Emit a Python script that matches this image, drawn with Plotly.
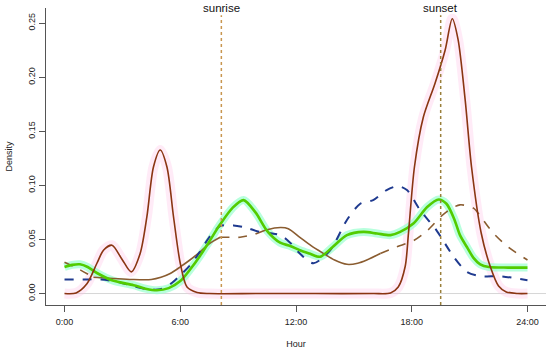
import plotly.graph_objects as go

# ---- data ----
red_h = [0, 0.6, 1.16, 1.68, 2.02, 2.46, 2.97, 3.46, 3.92, 4.27, 4.61, 4.96, 5.31, 5.65, 6.0, 6.35, 6.87, 7.5,
         10, 13, 16, 16.9, 17.3, 17.66, 17.83, 18.14, 18.6, 19.2, 19.73, 20.1, 20.4, 20.77, 21.1, 21.6, 22.07,
         22.5, 22.9, 23.5, 24]
red_v = [0, 0.0005, 0.009, 0.028, 0.040, 0.0447, 0.032, 0.020, 0.037, 0.071, 0.117, 0.1327, 0.117, 0.071, 0.028,
         0.006, 0.001, 0, 0, 0, 0, 0.0005, 0.006, 0.025, 0.0556, 0.117, 0.163, 0.194, 0.225, 0.254, 0.235, 0.179,
         0.117, 0.056, 0.025, 0.007, 0.0015, 0, 0]

green_h = [0, 0.4, 0.8, 1.2, 1.68, 2.5, 3.58, 4.2, 4.79, 5.4, 6.0, 6.5, 7.03, 7.5, 8.07, 8.7, 9.28, 9.9, 10.5,
           11.18, 11.7, 12.2, 12.7, 13.25, 13.9, 14.64, 15.5, 16.2, 16.9, 17.4, 18.1, 18.8, 19.4, 19.8, 20.2,
           20.5, 20.86, 21.2, 21.55, 22.0, 23.0, 24]
green_v = [0.0246, 0.0265, 0.027, 0.0245, 0.019, 0.012, 0.0077, 0.0045, 0.003, 0.005, 0.0115, 0.022, 0.035,
           0.048, 0.064, 0.079, 0.0864, 0.075, 0.058, 0.047, 0.044, 0.040, 0.037, 0.034, 0.043, 0.054, 0.057,
           0.0555, 0.054, 0.057, 0.065, 0.080, 0.087, 0.083, 0.069, 0.054, 0.043, 0.033, 0.027, 0.0245, 0.024,
           0.024]

blue_h = [0, 1.0, 1.9, 2.7, 3.58, 4.3, 4.96, 5.5, 6.0, 6.5, 7.0, 7.5, 8.07, 8.76, 9.4, 10.1, 11.18, 11.7, 12.2,
          12.9, 13.77, 14.64, 15.33, 16.0, 16.7, 17.3, 17.75, 18.44, 19.3, 20.17, 20.86, 21.55, 22.6, 24]
blue_v = [0.013, 0.013, 0.013, 0.011, 0.0068, 0.004, 0.004, 0.009, 0.017, 0.026, 0.038, 0.052, 0.0623, 0.063,
          0.061, 0.057, 0.054, 0.047, 0.037, 0.028, 0.040, 0.068, 0.083, 0.0864, 0.0957, 0.0993, 0.0957, 0.077,
          0.058, 0.034, 0.020, 0.016, 0.016, 0.0123]

brown_h = [0, 0.7, 1.5, 2.54, 3.5, 4.5, 5.0, 5.48, 6.0, 6.5, 7.03, 7.5, 8.07, 8.6, 9.1, 9.9, 10.5, 11.2, 11.6,
           12.2, 12.8, 13.43, 14.0, 14.64, 15.2, 15.67, 16.37, 17.2, 18.1, 18.8, 19.5, 20.0, 20.5, 21.2, 21.7,
           22.24, 23.0, 24]
brown_v = [0.029, 0.023, 0.015, 0.0139, 0.013, 0.013, 0.015, 0.0185, 0.0246, 0.031, 0.0386, 0.046, 0.052,
           0.052, 0.052, 0.055, 0.059, 0.061, 0.060, 0.052, 0.044, 0.037, 0.031, 0.027, 0.028, 0.031, 0.037,
           0.043, 0.049, 0.058, 0.071, 0.078, 0.082, 0.079, 0.068, 0.0556, 0.043, 0.031]
# hours where the brown line switches between dashed and solid (starts dashed)
brown_breaks = [0, 1.5, 8.07, 9.9, 16.37, 24]

sunrise = 8.13
sunset = 19.5

x_ticks = [0, 6, 12, 18, 24]
x_labels = ["0:00", "6:00", "12:00", "18:00", "24:00"]
y_ticks = [0, 0.05, 0.10, 0.15, 0.20, 0.25]
y_labels = ["0.00", "0.05", "0.10", "0.15", "0.20", "0.25"]

RED = "#8a3512"
GREEN = "#52cc00"
BLUE = "#1f3a8f"
BROWN = "#8a5c30"

fig = go.Figure()

# glows
fig.add_trace(go.Scatter(x=red_h, y=red_v, mode="lines", line=dict(color="rgba(255,190,230,0.3)", width=10,
                         shape="spline", smoothing=0.8), hoverinfo="skip", showlegend=False))
fig.add_trace(go.Scatter(x=green_h, y=green_v, mode="lines", line=dict(color="rgba(160,255,210,0.75)", width=8,
                         shape="spline", smoothing=0.8), hoverinfo="skip", showlegend=False))

# brown segments
for i in range(len(brown_breaks) - 1):
    a, b = brown_breaks[i], brown_breaks[i + 1]
    xs = [h for h in brown_h if a <= h <= b]
    ys = [v for h, v in zip(brown_h, brown_v) if a <= h <= b]
    dash = "dash" if i % 2 == 0 else "solid"
    fig.add_trace(go.Scatter(x=xs, y=ys, mode="lines", line=dict(color=BROWN, width=1.6, dash=dash,
                             shape="spline", smoothing=0.8), showlegend=False))

fig.add_trace(go.Scatter(x=blue_h, y=blue_v, mode="lines", line=dict(color=BLUE, width=2, dash="dash",
                         shape="spline", smoothing=0.8), showlegend=False))
fig.add_trace(go.Scatter(x=green_h, y=green_v, mode="lines", line=dict(color=GREEN, width=2.6,
                         shape="spline", smoothing=0.8), showlegend=False))
fig.add_trace(go.Scatter(x=red_h, y=red_v, mode="lines", line=dict(color=RED, width=1.6,
                         shape="spline", smoothing=0.8), showlegend=False))

x_range = [-0.96, 24.96]
y_range = [-0.0106, 0.264]

# zero line
fig.add_shape(type="line", xref="x", yref="y", x0=0, x1=x_range[1], y0=0, y1=0,
              line=dict(color="#d6d6d6", width=1), layer="below")

# sunrise / sunset
for xv, col, txt in [(sunrise, "#c8964f", "sunrise"), (sunset, "#9a7f3a", "sunset")]:
    fig.add_shape(type="line", xref="x", yref="paper", x0=xv, x1=xv, y0=0, y1=0.976,
                  line=dict(color=col, width=1.5, dash="3px,3px"))
    fig.add_annotation(x=xv, xref="x", y=1.0, yref="paper", text=txt, showarrow=False,
                       yanchor="middle", font=dict(size=11.5, color="#111"))

axis_common = dict(showgrid=False, zeroline=False, showline=True, linecolor="#555", linewidth=1,
                   ticks="outside", ticklen=6, tickcolor="#555", tickfont=dict(size=9, color="#222"))

fig.update_layout(
    width=550, height=350,
    margin=dict(l=46, r=4, t=8, b=45),
    plot_bgcolor="white", paper_bgcolor="white",
    font=dict(family="Liberation Sans, Arial, sans-serif", color="#222"),
    xaxis=dict(range=x_range, tickvals=x_ticks, ticktext=x_labels, ticklabelstandoff=2,
               title=dict(text="Hour", font=dict(size=9), standoff=14), **axis_common),
    yaxis=dict(range=y_range, tickvals=y_ticks, ticktext=y_labels, tickangle=-90,
               title=dict(text="Density", font=dict(size=9), standoff=13), **axis_common),
)

fig.write_html("out.html", config={"displayModeBar": False},
               post_script="document.body.style.margin='0';")
